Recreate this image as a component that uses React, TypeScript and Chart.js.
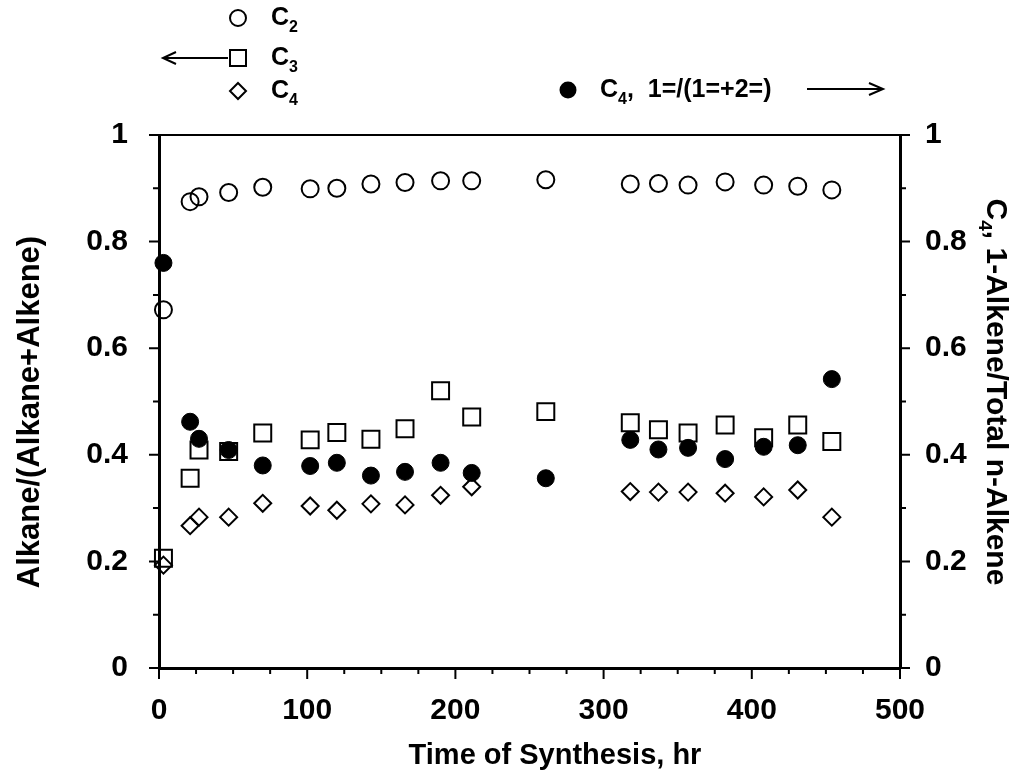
import React, { useEffect, useRef } from "react";
import { Chart, registerables } from "chart.js";

Chart.register(...registerables);

// Time of synthesis (hr)
const times = [3, 21, 27, 47, 70, 102, 120, 143, 166, 190, 211, 261, 318, 337, 357, 382, 408, 431, 454];
// Alkane/(Alkane+Alkene), left axis
const c2Ratio = [0.672, 0.875, 0.884, 0.892, 0.902, 0.899, 0.9, 0.908, 0.911, 0.914, 0.914, 0.916, 0.908, 0.909, 0.906, 0.912, 0.906, 0.904, 0.897];
const c3Ratio = [0.206, 0.356, 0.409, 0.406, 0.441, 0.428, 0.442, 0.429, 0.449, 0.52, 0.471, 0.481, 0.46, 0.447, 0.441, 0.456, 0.432, 0.456, 0.425];
const c4Ratio = [0.193, 0.267, 0.283, 0.283, 0.309, 0.304, 0.296, 0.308, 0.306, 0.324, 0.34, null, 0.331, 0.33, 0.33, 0.328, 0.321, 0.334, 0.283];
// C4 1-Alkene/Total n-Alkene, right axis
const c4OneAlkene = [0.76, 0.462, 0.43, 0.409, 0.38, 0.379, 0.385, 0.361, 0.368, 0.385, 0.366, 0.356, 0.428, 0.41, 0.413, 0.392, 0.415, 0.418, 0.542];

const xTicks = [0, 100, 200, 300, 400, 500];
const yTicks = [0, 0.2, 0.4, 0.6, 0.8, 1];

const FONT = '"Liberation Sans", Arial, Helvetica, sans-serif';

function pts(vals: (number | null)[]) {
  const out: { x: number; y: number }[] = [];
  times.forEach((t, i) => {
    const v = vals[i];
    if (v !== null && v !== undefined) out.push({ x: t, y: v });
  });
  return out;
}

function drawSubText(
  c: CanvasRenderingContext2D,
  parts: { t: string; sub?: boolean }[],
  x: number,
  y: number,
  size: number,
  subSize: number,
  subShift: number,
  align: "left" | "center"
) {
  const mainFont = `bold ${size}px ${FONT}`;
  const subFont = `bold ${subSize}px ${FONT}`;
  let total = 0;
  for (const p of parts) {
    c.font = p.sub ? subFont : mainFont;
    total += c.measureText(p.t).width;
  }
  let cx = align === "center" ? x - total / 2 : x;
  c.textAlign = "left";
  c.textBaseline = "middle";
  for (const p of parts) {
    c.font = p.sub ? subFont : mainFont;
    c.fillText(p.t, cx, p.sub ? y + subShift : y);
    cx += c.measureText(p.t).width;
  }
}

export default function App() {
  const ref = useRef<HTMLCanvasElement>(null);

  useEffect(() => {
    const canvas = ref.current;
    if (!canvas) return;

    const decor = {
      id: "decor",
      afterDraw(chart: any) {
        const c: CanvasRenderingContext2D = chart.ctx;
        const { left, right, top, bottom } = chart.chartArea;
        const xs = chart.scales.x;
        const yl = chart.scales.y;
        c.save();
        c.strokeStyle = "#000";
        c.fillStyle = "#000";
        c.lineCap = "butt";

        // top frame line
        c.lineWidth = 2;
        c.beginPath();
        c.moveTo(left, top);
        c.lineTo(right, top);
        c.stroke();

        // x ticks (major every 100, minor every 25), outward
        c.lineWidth = 2;
        for (let v = 0; v <= 500; v += 25) {
          const px = xs.getPixelForValue(v);
          const len = v % 100 === 0 ? 11 : 6;
          c.beginPath();
          c.moveTo(px, bottom);
          c.lineTo(px, bottom + len);
          c.stroke();
        }
        // y ticks on both sides (major 0.2, minor 0.1), outward
        for (let i = 0; i <= 10; i++) {
          const py = yl.getPixelForValue(i / 10);
          const len = i % 2 === 0 ? 10 : 6;
          c.beginPath();
          c.moveTo(left - len, py);
          c.lineTo(left, py);
          c.moveTo(right, py);
          c.lineTo(right + len, py);
          c.stroke();
        }

        // Legend (left group)
        const sx = 238;
        c.lineWidth = 2;
        c.beginPath();
        c.arc(sx, 18, 8, 0, Math.PI * 2);
        c.stroke();
        c.strokeRect(sx - 8, 50, 16, 16);
        c.beginPath();
        c.moveTo(sx, 83);
        c.lineTo(sx + 8, 91);
        c.lineTo(sx, 99);
        c.lineTo(sx - 8, 91);
        c.closePath();
        c.stroke();
        // left arrow
        c.lineWidth = 2;
        c.beginPath();
        c.moveTo(228, 58);
        c.lineTo(164, 58);
        c.stroke();
        c.beginPath();
        c.moveTo(176, 52);
        c.lineTo(163, 58);
        c.lineTo(176, 64);
        c.stroke();

        drawSubText(c, [{ t: "C" }, { t: "2", sub: true }], 271, 18, 25, 16, 10, "left");
        drawSubText(c, [{ t: "C" }, { t: "3", sub: true }], 271, 58, 25, 16, 10, "left");
        drawSubText(c, [{ t: "C" }, { t: "4", sub: true }], 271, 91, 25, 16, 10, "left");

        // Legend (right group)
        c.beginPath();
        c.arc(568, 90, 8.5, 0, Math.PI * 2);
        c.fill();
        drawSubText(
          c,
          [{ t: "C" }, { t: "4", sub: true }, { t: ",  1=/(1=+2=)" }],
          600,
          90,
          25,
          16,
          10,
          "left"
        );
        c.lineWidth = 2;
        c.beginPath();
        c.moveTo(807, 89);
        c.lineTo(882, 89);
        c.stroke();
        c.beginPath();
        c.moveTo(869, 83);
        c.lineTo(883, 89);
        c.lineTo(869, 95);
        c.stroke();

        // x-axis title
        drawSubText(c, [{ t: "Time of Synthesis, hr" }], 555, 756, 29, 16, 0, "center");

        // left y-axis title
        c.save();
        c.translate(30, 412);
        c.rotate(-Math.PI / 2);
        drawSubText(c, [{ t: "Alkane/(Alkane+Alkene)" }], 0, 0, 31, 16, 0, "center");
        c.restore();

        // right y-axis title
        c.save();
        c.translate(995, 392);
        c.rotate(Math.PI / 2);
        drawSubText(
          c,
          [{ t: "C" }, { t: "4", sub: true }, { t: ", 1-Alkene/Total n-Alkene" }],
          0,
          0,
          30,
          19,
          11,
          "center"
        );
        c.restore();

        c.restore();
      },
    };

    const openStyle = {
      borderColor: "#000",
      backgroundColor: "rgba(0,0,0,0)",
      borderWidth: 2,
      showLine: false,
      clip: false as any,
    };

    const chart = new Chart(canvas, {
      type: "scatter",
      data: {
        datasets: [
          { label: "C2", data: pts(c2Ratio), yAxisID: "y", pointStyle: "circle", pointRadius: 8.5, ...openStyle },
          { label: "C3", data: pts(c3Ratio), yAxisID: "y", pointStyle: "rect", pointRadius: 12, ...openStyle },
          { label: "C4", data: pts(c4Ratio), yAxisID: "y", pointStyle: "rectRot", pointRadius: 8.5, ...openStyle },
          {
            label: "C4, 1=/(1=+2=)",
            data: pts(c4OneAlkene),
            yAxisID: "y2",
            pointStyle: "circle",
            pointRadius: 8.5,
            borderColor: "#000",
            backgroundColor: "#000",
            borderWidth: 1,
            showLine: false,
            clip: false as any,
          },
        ],
      },
      options: {
        responsive: false,
        animation: false,
        events: [],
        layout: { padding: { top: 135, left: 0, right: 0, bottom: 0 } },
        plugins: { legend: { display: false }, tooltip: { enabled: false }, title: { display: false } },
        scales: {
          x: {
            type: "linear",
            min: 0,
            max: 500,
            afterFit: (s: any) => {
              s.height = 114;
            },
            afterBuildTicks: (s: any) => {
              s.ticks = xTicks.map((v) => ({ value: v }));
            },
            grid: { display: false, drawTicks: false },
            border: { display: true, color: "#000", width: 3 },
            ticks: {
              color: "#000",
              padding: 25,
              maxRotation: 0,
              font: { family: FONT, size: 30, weight: "bold" },
            },
          },
          y: {
            type: "linear",
            position: "left",
            min: 0,
            max: 1,
            afterFit: (s: any) => {
              s.width = 159;
            },
            afterBuildTicks: (s: any) => {
              s.ticks = yTicks.map((v) => ({ value: v }));
            },
            grid: { display: false, drawTicks: false },
            border: { display: true, color: "#000", width: 3 },
            ticks: {
              color: "#000",
              padding: 31,
              font: { family: FONT, size: 30, weight: "bold" },
              callback: (v: any) => String(Math.round(Number(v) * 10) / 10),
            },
          },
          y2: {
            type: "linear",
            position: "right",
            min: 0,
            max: 1,
            afterFit: (s: any) => {
              s.width = 133;
            },
            afterBuildTicks: (s: any) => {
              s.ticks = yTicks.map((v) => ({ value: v }));
            },
            grid: { display: false, drawTicks: false },
            border: { display: true, color: "#000", width: 3 },
            ticks: {
              color: "#000",
              padding: 25,
              font: { family: FONT, size: 30, weight: "bold" },
              callback: (v: any) => String(Math.round(Number(v) * 10) / 10),
            },
          },
        },
      },
      plugins: [decor],
    });

    return () => chart.destroy();
  }, []);

  return (
    <div style={{ position: "fixed", left: 0, top: 0, width: 1033, height: 782, background: "#fff" }}>
      <canvas ref={ref} width={1033} height={782} style={{ display: "block", width: 1033, height: 782 }} />
    </div>
  );
}
